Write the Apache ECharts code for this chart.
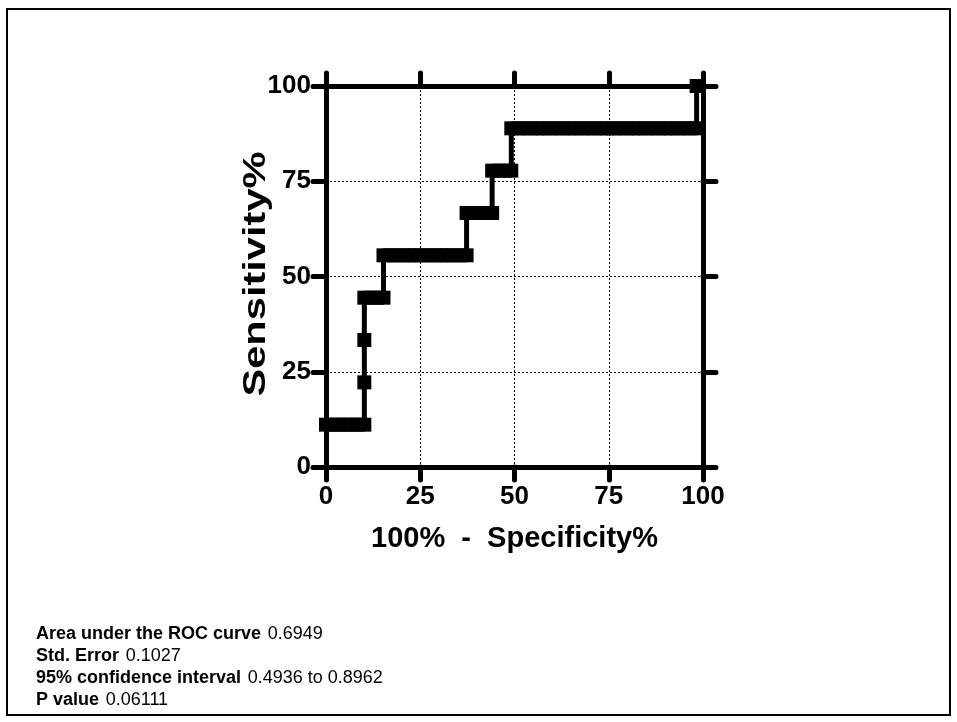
<!DOCTYPE html>
<html>
<head>
<meta charset="utf-8">
<script src="https://cdn.jsdelivr.net/npm/echarts@6/dist/echarts.min.js"></script>
<style>
html,body{margin:0;padding:0;background:#fff;}
#c{width:957px;height:722px;}
</style>
</head>
<body>
<div id="c"></div>
<script>
// ROC curve points: 100% - Specificity% (x) and Sensitivity% (y)
var fpr = [0, 1.695, 3.390, 5.085, 6.780, 8.475, 10.17,
  10.17, 10.17,
  10.17, 11.86, 13.56, 15.25,
  15.25, 16.95, 18.64, 20.34, 22.03, 23.73, 25.42, 27.12, 28.81, 30.51, 32.20, 33.90, 35.59, 37.29,
  37.29, 38.98, 40.68, 42.37, 44.07,
  44.07, 45.76, 47.46, 49.15,
  49.15, 50.85, 52.54, 54.24, 55.93, 57.63, 59.32, 61.02, 62.71, 64.41, 66.10, 67.80, 69.49, 71.19,
  72.88, 74.58, 76.27, 77.97, 79.66, 81.36, 83.05, 84.75, 86.44, 88.14, 89.83, 91.53, 93.22, 94.92, 96.61, 98.31,
  98.31];
var sens = [11.11, 11.11, 11.11, 11.11, 11.11, 11.11, 11.11,
  22.22, 33.33,
  44.44, 44.44, 44.44, 44.44,
  55.56, 55.56, 55.56, 55.56, 55.56, 55.56, 55.56, 55.56, 55.56, 55.56, 55.56, 55.56, 55.56, 55.56,
  66.67, 66.67, 66.67, 66.67, 66.67,
  77.78, 77.78, 77.78, 77.78,
  88.89, 88.89, 88.89, 88.89, 88.89, 88.89, 88.89, 88.89, 88.89, 88.89, 88.89, 88.89, 88.89, 88.89,
  88.89, 88.89, 88.89, 88.89, 88.89, 88.89, 88.89, 88.89, 88.89, 88.89, 88.89, 88.89, 88.89, 88.89, 88.89, 88.89,
  100];
var xTitle = '100%  -  Specificity%';
var yTitle = 'Sensitivity%';
var statLabels = ['Area under the ROC curve', 'Std. Error', '95% confidence interval', 'P value'];
var statValues = ['0.6949', '0.1027', '0.4936 to 0.8962', '0.06111'];

var FONT = '"Liberation Sans", Arial, Helvetica, sans-serif';
var pts = fpr.map(function (x, i) { return [x, sens[i]]; });

var lineS = {color: '#000', width: 5};
var tickS = {show: true, inside: false, length: 13, lineStyle: {color: '#000', width: 5, cap: 'round'}};
var splitS = {show: true, lineStyle: {color: '#000', width: 1, type: [2, 2]}};
var labelS = {color: '#000', fontFamily: FONT, fontWeight: 'bold', fontSize: 26};

function axis(pos, main) {
  return {
    type: 'value', position: pos, min: 0, max: 100, interval: 25,
    axisLine: {show: true, onZero: false, lineStyle: lineS},
    axisTick: tickS,
    axisLabel: main ? Object.assign({margin: (pos === 'bottom' ? 17 : 15)}, labelS) : {show: false},
    splitLine: main ? splitS : {show: false}
  };
}

var xa = axis('bottom', true);
xa.name = xTitle; xa.nameLocation = 'middle'; xa.nameGap = 57;
xa.nameTextStyle = {color: '#000', fontFamily: FONT, fontWeight: 'bold', fontSize: 29};
var ya = axis('left', true);

var graphics = [{
  type: 'rect', shape: {x: 7, y: 9, width: 943, height: 706},
  style: {fill: 'none', stroke: '#000', lineWidth: 2}, silent: true
}, {
  type: 'text', x: 256, y: 274, rotation: Math.PI / 2, scaleX: 1.3, scaleY: 1,
  style: {text: yTitle, fontFamily: FONT, fontWeight: 'bold', fontSize: 32, fill: '#000',
    textAlign: 'center', textVerticalAlign: 'middle'}
}];
statLabels.forEach(function (lab, i) {
  graphics.push({
    type: 'text', left: 36, top: 625 + i * 22,
    style: {
      text: '{b|' + lab + '}  {n|' + statValues[i] + '}',
      rich: {
        b: {fontFamily: FONT, fontWeight: 'bold', fontSize: 18, fill: '#000'},
        n: {fontFamily: FONT, fontSize: 18, fill: '#000'}
      }
    }
  });
});

var chart = echarts.init(document.getElementById('c'), null, {renderer: 'canvas'});
chart.setOption({
  animation: false,
  backgroundColor: '#fff',
  grid: {left: 326, right: 254, top: 86, bottom: 255, containLabel: false},
  xAxis: [xa, axis('top', false)],
  yAxis: [ya, axis('right', false)],
  series: [{
    type: 'line', data: pts, clip: false,
    symbol: 'rect', symbolSize: 14, showAllSymbol: true,
    itemStyle: {color: '#000'},
    lineStyle: {color: '#000', width: 5},
    z: 5
  }],
  graphic: graphics
});
</script>
</body>
</html>
